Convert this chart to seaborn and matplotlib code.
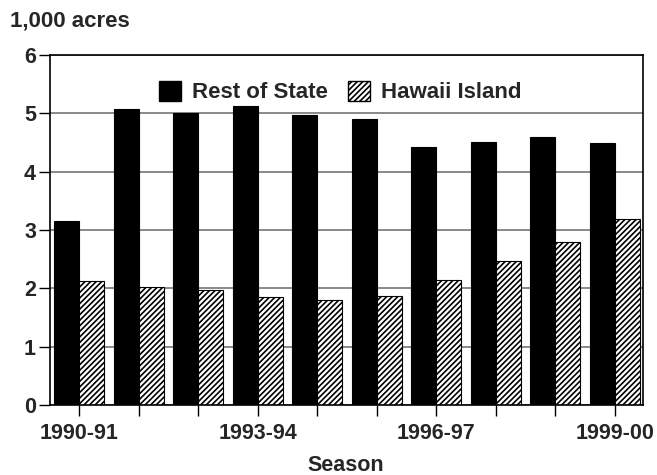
import numpy as np
import pandas as pd
import matplotlib
matplotlib.use("Agg")
import matplotlib.pyplot as plt
import seaborn as sns
from matplotlib.patches import Patch

# ==========================================
# DATA
# ==========================================

seasons = ["1990-91", "1991-92", "1992-93", "1993-94", "1994-95",
           "1995-96", "1996-97", "1997-98", "1998-99", "1999-00"]
rest_of_state = [3.15, 5.07, 5.01, 5.13, 4.97, 4.90, 4.43, 4.51, 4.59, 4.49]
hawaii_island = [2.13, 2.02, 1.97, 1.85, 1.81, 1.87, 2.15, 2.47, 2.79, 3.19]
tick_labels = ["1990-91", "", "", "1993-94", "", "", "1996-97", "", "", "1999-00"]

df = pd.DataFrame({
    "Season": seasons * 2,
    "Acres": rest_of_state + hawaii_island,
    "Region": ["Rest of State"] * 10 + ["Hawaii Island"] * 10,
})

# ==========================================
# STYLE
# ==========================================

sns.set_style("white")
plt.rcParams["font.family"] = ["Liberation Sans", "DejaVu Sans"]
plt.rcParams["font.weight"] = "bold"
plt.rcParams["hatch.linewidth"] = 1.2

fig, ax = plt.subplots(figsize=(6.57, 4.75), dpi=100)
fig.subplots_adjust(left=0.076, right=0.979, top=0.884, bottom=0.147)

ax.set_axisbelow(True)
ax.yaxis.grid(True, color="#808080", linewidth=1.3)

sns.barplot(
    data=df,
    x="Season",
    y="Acres",
    hue="Region",
    palette=["black", "white"],
    width=0.84,
    gap=0,
    edgecolor="black",
    linewidth=0.8,
    legend=False,
    ax=ax,
)

# hatch the Hawaii Island bars
for patch in ax.patches[10:20]:
    patch.set_hatch("//////")

ax.set_ylim(0, 6)
ax.set_xlim(-0.49, 9.48)
ax.set_yticks(range(7))
ax.set_xticks(range(10))
ax.set_xticklabels(tick_labels)

ax.tick_params(axis="both", direction="out", length=8, width=1,
               color="black", labelsize=15.5, pad=2, left=True, bottom=True)
ax.tick_params(axis="x", pad=5)
for lbl in ax.get_xticklabels() + ax.get_yticklabels():
    lbl.set_fontweight("bold")

for side in ["left", "bottom", "top", "right"]:
    ax.spines[side].set_visible(True)
    ax.spines[side].set_color("black")
    ax.spines[side].set_linewidth(1.2)

ax.set_xlabel("")
ax.set_ylabel("")
fig.text(0.527, 0.019, "Season", fontsize=15.5, fontweight="bold",
         ha="center", va="center")
fig.text(0.015, 0.956, "1,000 acres", fontsize=16, fontweight="bold",
         ha="left", va="center")

handles = [
    Patch(facecolor="black", edgecolor="black", label="Rest of State"),
    Patch(facecolor="white", edgecolor="black", hatch="//////",
          label="Hawaii Island"),
]
leg = ax.legend(handles=handles, loc="center", ncol=2, frameon=False,
                bbox_to_anchor=(0.489, 0.894), handlelength=1.0,
                handleheight=1.0, columnspacing=0.9, handletextpad=0.5,
                prop={"weight": "bold", "size": 16})

fig.savefig("out.png", dpi=100)
